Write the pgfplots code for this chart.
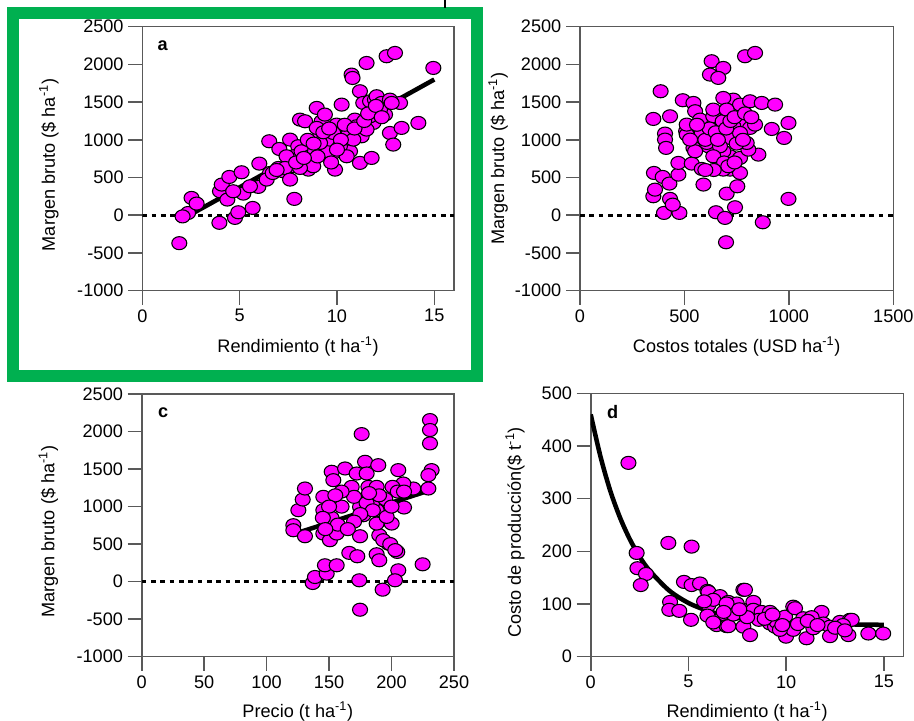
\documentclass[border=0pt]{standalone}
\usepackage{pgfplots}
\pgfplotsset{compat=1.18}
\usepackage{fontspec}
\setmainfont{Liberation Sans}
\definecolor{mag}{RGB}{255,0,255}
\definecolor{frm}{RGB}{0,176,80}
\newcommand{\fs}{\fontsize{13.6}{16}\selectfont}
\pgfplotsset{
  panel/.style={
    scale only axis,
    anchor=south west,
    axis line style={black!65,line width=1.2pt},
    tick style={black!65,line width=1.2pt},
    tick align=outside,
    major tick length=10.5pt,
    xtick pos=bottom, ytick pos=left,
    tick label style={font=\fs},
    label style={font=\fs},
    /pgf/number format/assume math mode=true,
    /pgf/number format/1000 sep={},
    xlabel style={anchor=center},
  },
  dots/.style={only marks, mark=*, mark size=4.9pt,
    mark options={fill=mag, draw=black, line width=0.8pt, xscale=1.15}},
  zero/.style={no marks, black, line width=2.2pt, dash pattern=on 3.4pt off 3.6pt},
  fit/.style={no marks, black, line width=3.4pt},
}
\pgfplotstableread{
x y
1.9 -370
2.35 30
2.07 -15
2.53 230
2.79 155
3.96 -100
4.76 -35
4.93 40
5.67 97
3.99 318
4.08 407
4.47 508
5.10 570
4.37 208
5.19 287
5.96 376
6.01 685
6.52 981
7.04 879
7.59 1003
7.81 217
8.01 915
8.10 1268
8.36 1246
7.24 583
7.67 650
6.56 561
6.99 627
8.44 658
8.53 605
8.96 1423
9.21 1246
9.38 1335
9.13 1047
8.96 1158
9.38 959
9.90 605
10.24 1467
9.98 1202
10.07 1069
10.50 937
9.81 826
10.75 1865
10.80 1820
11.18 1644
11.52 2019
11.35 1489
11.70 1511
11.95 1533
12.04 1578
10.92 1268
11.01 1180
11.27 1047
11.87 1224
11.18 694
11.78 760
10.67 848
12.55 2108
12.98 2152
12.47 1335
12.72 1091
12.89 937
13.32 1158
13.24 1489
12.29 1489
14.18 1224
14.95 1953
7.76 782
8.18 848
8.61 782
8.87 848
9.55 848
9.64 1003
10.33 1136
10.58 1069
10.84 1003
11.52 1136
11.70 1312
12.21 1401
9.81 1091
10.15 915
10.50 782
9.13 959
8.78 650
7.41 782
7.33 627
6.39 473
5.53 384
4.67 318
7.59 473
8.10 627
12.72 1533
12.81 1489
8.50 1000
8.80 950
9.30 1100
9.60 1150
10.20 1000
10.40 1200
10.90 1150
11.40 1250
11.60 1350
12.00 1450
9.00 780
9.70 700
10.00 870
7.90 700
8.30 760
6.70 560
6.90 600
12.30 1300
}\dataA
\pgfplotstableread{
x y
699 -358
875 -93
998 217
402 31
476 31
651 40
694 -35
742 106
702 287
753 384
351 252
359 340
431 217
444 141
354 561
396 508
428 420
471 539
471 694
535 685
583 614
591 407
718 605
766 561
686 605
667 738
718 782
766 760
854 804
806 870
386 1644
351 1277
431 1312
492 1525
543 1489
551 1379
407 1083
407 1003
412 893
508 1114
511 1069
543 893
583 1091
614 915
575 1268
638 1312
683 1246
678 1003
686 848
734 1533
766 1467
814 1511
870 1489
934 1467
766 1246
814 1158
838 1202
918 1144
998 1224
977 1025
758 1069
718 1025
630 2042
686 1953
622 1865
662 1821
790 2108
838 2152
607 959
638 1401
686 1555
702 1401
734 1180
766 1091
798 959
670 915
638 782
551 848
527 1003
511 1202
600 1000
620 1150
650 1100
660 1000
700 1150
720 1250
740 1300
750 950
690 700
710 650
740 700
780 1000
790 1350
820 1300
640 600
600 600
560 1200
}\dataB
\pgfplotstableread{
x y
174.8 -374
174.2 18
192.9 -107
205.4 151
202.8 18
224.9 231
136.9 -18
138.7 62
148.1 107
146.7 218
156.1 218
166.2 383
172.6 338
188.1 365
190.2 285
204.6 396
174.8 605
190.2 618
197.4 507
176.1 1966
230.8 2153
230.8 2020
230.8 1842
232.1 1486
229.5 1419
229.5 1241
217.4 1241
210.0 988
205.4 1486
209.4 1308
121.4 752
121.4 685
125.4 952
128.9 1094
130.7 1241
130.7 605
152.1 1464
153.4 1352
153.4 1085
145.4 1130
145.4 952
148.1 818
150.7 730
145.4 641
150.7 552
156.1 641
162.8 1508
168.1 1263
172.1 1441
178.8 1597
189.4 1552
180.1 1441
181.5 1263
188.1 1263
181.5 1130
186.8 1085
178.8 1041
174.8 996
188.1 952
188.1 774
200.1 774
196.1 863
177.4 885
193.4 552
200.8 1263
205.0 1200
183.0 1000
184.5 1050
170.0 1130
160.0 1000
152.0 850
157.0 760
199.0 500
203.0 420
180.0 1050
185.0 950
175.0 900
170.0 800
165.0 700
195.0 1100
200.0 1000
160.0 1200
155.0 1150
150.0 1000
145.0 850
147.0 700
190.0 1150
182.0 1180
210.0 1200
}\dataC
\pgfplotstableread{
x y
1.93 368
2.35 197
2.39 168
2.83 157
2.56 136
3.97 216
5.16 209
4.06 104
4.02 89
4.53 87
5.13 70
4.77 142
5.16 136
5.59 139
5.97 125
6.02 123
6.61 115
7.81 127
7.04 104
6.02 98
6.27 108
6.61 70
6.44 60
6.95 58
7.04 58
7.81 57
8.06 89
8.32 104
8.32 89
8.74 85
9.17 85
9.17 63
9.43 57
9.51 66
9.94 76
9.99 38
10.36 95
10.36 51
10.45 92
10.87 73
11.04 35
11.39 54
11.81 85
11.90 63
12.24 57
12.24 39
12.75 66
13.18 41
13.26 70
13.35 70
14.20 44
14.96 44
7.47 101
7.89 127
8.15 41
9.68 51
6.95 101
5.97 78
6.27 65
8.60 70
11.30 75
12.90 60
7.30 80
8.00 75
8.90 72
9.30 80
9.80 60
10.60 62
11.10 68
11.60 60
12.50 55
13.00 50
6.80 85
7.60 90
5.80 105
}\dataD
\begin{document}
\begin{tikzpicture}[x=0.75pt,y=0.75pt]
\useasboundingbox (0,0) rectangle (914,721);
% panel a
\begin{axis}[panel, at={(106.73pt,322.73pt)}, width=233.6pt, height=198pt,
  xmin=0, xmax=16, ymin=-1000, ymax=2500,
  xtick={0,5,10,15}, ytick={-1000,-500,0,500,1000,1500,2000,2500},
  xlabel={Rendimiento (t ha\textsuperscript{-1})},
  ylabel={Margen bruto (\$ ha\textsuperscript{-1})},
  xlabel style={at={(axis description cs:0.5,-0.213)}},
  ylabel style={at={(axis description cs:-0.30,0.476)}, anchor=center}]
\addplot[zero] coordinates {(0,0) (16,0)};
\addplot[dots] table {\dataA};
\addplot[fit] coordinates {(1.85,-80) (15,1800)};
\node[font=\fs\bfseries] at (axis description cs:0.065,0.927) {a};
\end{axis}
% panel b
\begin{axis}[panel, at={(435pt,322.73pt)}, width=235pt, height=198pt,
  xmin=0, xmax=1500, ymin=-1000, ymax=2500,
  xtick={0,500,1000,1500}, ytick={-1000,-500,0,500,1000,1500,2000,2500},
  xlabel={Costos totales (USD ha\textsuperscript{-1})},
  ylabel={Margen bruto (\$ ha\textsuperscript{-1})},
  xlabel style={at={(axis description cs:0.5,-0.212)}},
  ylabel style={at={(axis description cs:-0.261,0.5)}, anchor=center}]
\addplot[zero] coordinates {(0,0) (1500,0)};
\addplot[dots] table {\dataB};
\end{axis}
% panel c
\begin{axis}[panel, at={(106.28pt,48.23pt)}, width=234.2pt, height=197pt,
  xmin=0, xmax=250, ymin=-1000, ymax=2500,
  xtick={0,50,100,150,200,250}, ytick={-1000,-500,0,500,1000,1500,2000,2500},
  xlabel={Precio (t ha\textsuperscript{-1})},
  ylabel={Margen bruto (\$ ha\textsuperscript{-1})},
  xlabel style={at={(axis description cs:0.5,-0.209)}},
  ylabel style={at={(axis description cs:-0.299,0.476)}, anchor=center}]
\addplot[zero] coordinates {(0,0) (250,0)};
\addplot[dots] table {\dataC};
\addplot[fit] coordinates {(121,630) (235,1240)};
\node[font=\fs\bfseries] at (axis description cs:0.069,0.930) {c};
\end{axis}
% panel d
\begin{axis}[panel, at={(443.03pt,48.23pt)}, width=234.6pt, height=197.5pt,
  xmin=0, xmax=16, ymin=0, ymax=500,
  xtick={0,5,10,15}, ytick={0,100,200,300,400,500},
  xlabel={Rendimiento (t ha\textsuperscript{-1})},
  ylabel={Costo de producción(\$ t\textsuperscript{-1})},
  xlabel style={at={(axis description cs:0.5,-0.209)}},
  ylabel style={at={(axis description cs:-0.242,0.472)}, anchor=center}]
\addplot[dots] table {\dataD};
\addplot[fit, smooth] coordinates {(0,460) (0.5,380) (1,315) (1.5,264) (2,223) (2.5,190) (3,164) (4,126) (5,102) (6,87) (7,77) (8,71) (10,64.5) (12,62) (15,60.5)};
\node[font=\fs\bfseries] at (axis description cs:0.070,0.930) {d};
\end{axis}
\draw[frm, line width=9pt] (12.5,708.1) rectangle (476.7,344.7);
\draw[black, line width=1.5pt] (445,721) -- (445,713);
\end{tikzpicture}
\end{document}
